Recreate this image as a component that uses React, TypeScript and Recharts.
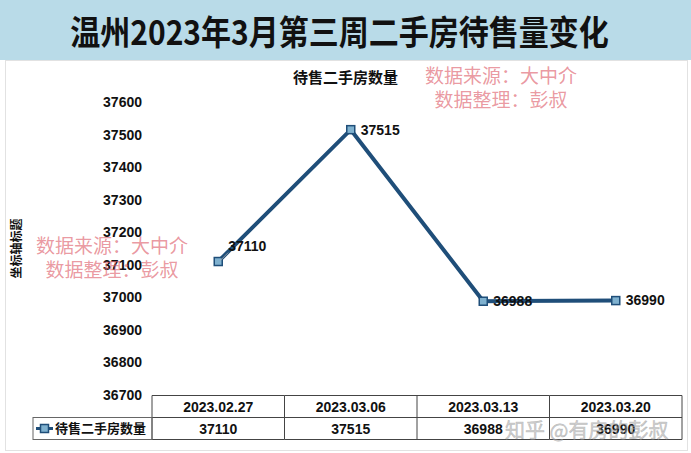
import { LineChart, Line, XAxis, YAxis, LabelList } from "recharts";

const categories = ["2023.02.27", "2023.03.06", "2023.03.13", "2023.03.20"];
const seriesName = "待售二手房数量";
const values = [37110, 37515, 36988, 36990];
const yTicks = [36700, 36800, 36900, 37000, 37100, 37200, 37300, 37400, 37500, 37600];

const pageTitle = "温州2023年3月第三周二手房待售量变化";
const yAxisTitle = "坐标轴标题";
const sourceLines = ["数据来源：大中介", "数据整理：彭叔"];
const watermark = "知乎 @有房的彭叔";

const data = categories.map((date, i) => ({ date, value: values[i] }));

const LINE_COLOR = "#1f4e79";
const DOT_FILL = "#7fb1cf";
const NUM_FONT = "'Liberation Sans', Arial, sans-serif";
const CJK_FONT = "'Noto Sans CJK SC', 'Noto Sans', sans-serif";

// table under the plot
const TABLE_TOP = 395.5;
const ROW_H = 22;
const HALF_COL = 66.25;
const LEGEND_LEFT = 33;

const SquareDot = (props: any) => {
  const { cx, cy } = props;
  if (cx == null || cy == null) return null;
  return <rect x={cx - 4} y={cy - 4} width={8} height={8} fill={DOT_FILL} stroke={LINE_COLOR} strokeWidth={1.5} />;
};

const ValueLabel = (props: any) => {
  const { x, y, value, index } = props;
  // first label was dragged up a bit in the original, with a leader line
  const lift = index === 0 ? 15 : 0;
  return (
    <g>
      {lift > 0 && <line x1={x + 2} y1={y - 1} x2={x + 10} y2={y - lift + 6} stroke="#aaa" strokeWidth={0.8} />}
      <text
        x={x + 10}
        y={y - lift}
        dy="0.35em"
        textAnchor="start"
        fontFamily={NUM_FONT}
        fontWeight="bold"
        fontSize={14}
        fill="#111"
      >
        {value}
      </text>
    </g>
  );
};

const TableTick = (props: any) => {
  const { x, payload, index } = props;
  const left = x - HALF_COL;
  const right = x + HALF_COL;
  const mid = TABLE_TOP + ROW_H;
  const bottom = TABLE_TOP + ROW_H * 2;
  return (
    <g>
      <line x1={left} y1={TABLE_TOP} x2={right} y2={TABLE_TOP} stroke="#444" />
      <line x1={left} y1={mid} x2={right} y2={mid} stroke="#444" />
      <line x1={left} y1={bottom} x2={right} y2={bottom} stroke="#444" />
      <line x1={left} y1={TABLE_TOP} x2={left} y2={bottom} stroke="#444" />
      {index === categories.length - 1 && <line x1={right} y1={TABLE_TOP} x2={right} y2={bottom} stroke="#444" />}
      <text x={x} y={TABLE_TOP + ROW_H / 2} dy="0.36em" textAnchor="middle" fontFamily={NUM_FONT} fontWeight="bold" fontSize={14} fill="#111">
        {payload.value}
      </text>
      <text x={x} y={mid + ROW_H / 2} dy="0.36em" textAnchor="middle" fontFamily={NUM_FONT} fontWeight="bold" fontSize={14} fill="#111">
        {values[index]}
      </text>
      {index === 0 && (
        <g>
          <rect x={LEGEND_LEFT} y={mid} width={left - LEGEND_LEFT} height={ROW_H} fill="none" stroke="#666" />
          <line x1={36} y1={mid + ROW_H / 2} x2={53} y2={mid + ROW_H / 2} stroke={LINE_COLOR} strokeWidth={3} />
          <rect x={40.5} y={mid + ROW_H / 2 - 4} width={8} height={8} fill={DOT_FILL} stroke={LINE_COLOR} strokeWidth={1.5} />
          <text x={55} y={mid + ROW_H / 2} dy="0.36em" fontFamily={CJK_FONT} fontWeight="bold" fontSize={13} fill="#111">
            {seriesName}
          </text>
        </g>
      )}
    </g>
  );
};

const SourceNote = ({ left, top }: { left: number; top: number }) => (
  <div style={{ position: "absolute", left, top, color: "rgba(222, 96, 108, 0.65)", fontFamily: CJK_FONT, fontSize: 19, lineHeight: "24px", textAlign: "center" }}>
    <div>{sourceLines[0]}</div>
    <div>{sourceLines[1]}</div>
  </div>
);

export default function App() {
  return (
    <div style={{ position: "fixed", left: 0, top: 0, width: 691, height: 453, background: "#fff", overflow: "hidden" }}>
      <div style={{ position: "absolute", left: 5, top: 60, width: 683, height: 391, border: "1px solid #e2e2e2", boxSizing: "border-box" }} />
      <div
        style={{
          position: "absolute",
          left: 0,
          top: 0,
          width: 691,
          height: 60,
          background: "#b9dbe8",
          display: "flex",
          alignItems: "center",
          justifyContent: "center",
        }}
      >
        <span style={{ fontFamily: CJK_FONT, fontSize: 30, fontWeight: 700, color: "#111", marginLeft: -12, display: "inline-block", transform: "scaleY(1.12)" }}>
          {pageTitle}
        </span>
      </div>
      <div style={{ position: "absolute", left: 0, top: 66, width: 691, textAlign: "center", fontFamily: CJK_FONT, fontWeight: 700, fontSize: 15, color: "#111" }}>
        {seriesName}
      </div>
      <div style={{ position: "absolute", left: 0, top: 0 }}>
        <LineChart width={691} height={453} data={data} margin={{ top: 102, right: 9, bottom: 0, left: 0 }}>
          <XAxis
            dataKey="date"
            height={58}
            axisLine={false}
            tickLine={false}
            tick={<TableTick />}
            interval={0}
            padding={{ left: HALF_COL, right: HALF_COL }}
          />
          <YAxis
            width={152}
            domain={[36700, 37600]}
            ticks={yTicks}
            axisLine={false}
            tickLine={false}
            tickSize={0}
            tickMargin={10}
            tick={{ fontFamily: NUM_FONT, fontWeight: "bold", fontSize: 14, fill: "#111" }}
            label={{
              value: yAxisTitle,
              angle: -90,
              position: "insideLeft",
              offset: 17,
              style: { fontFamily: CJK_FONT, fontWeight: "bold", fontSize: 12, fill: "#111", textAnchor: "middle" },
            }}
          />
          <Line
            type="linear"
            dataKey="value"
            name={seriesName}
            stroke={LINE_COLOR}
            strokeWidth={4}
            dot={<SquareDot />}
            activeDot={false}
            isAnimationActive={false}
          >
            <LabelList dataKey="value" content={<ValueLabel />} />
          </Line>
        </LineChart>
      </div>
      <SourceNote left={425} top={63} />
      <SourceNote left={36} top={233} />
      <div
        style={{
          position: "absolute",
          left: 505,
          top: 415,
          fontFamily: CJK_FONT,
          fontSize: 20,
          color: "rgba(170,170,170,0.55)",
          WebkitTextStroke: "0.5px rgba(140,140,140,0.5)",
          whiteSpace: "nowrap",
        }}
      >
        {watermark}
      </div>
    </div>
  );
}
